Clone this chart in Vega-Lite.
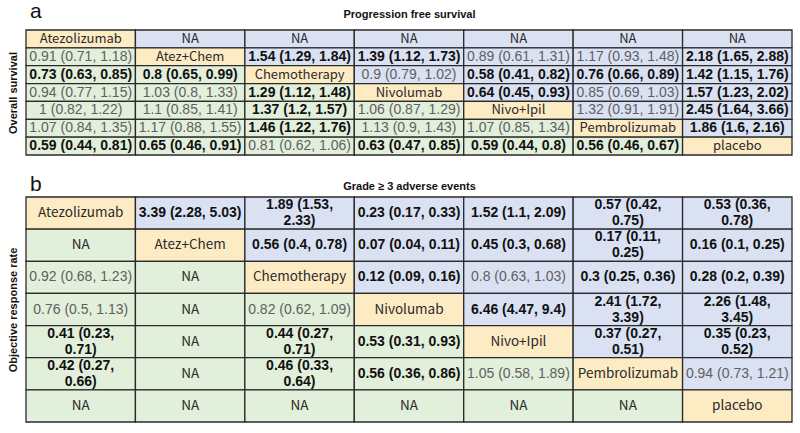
{
  "$schema": "https://vega.github.io/schema/vega-lite/v6.json",
  "padding": {"left": 7, "top": 1, "right": 2, "bottom": 4},
  "background": "white",
  "config": {"view": {"stroke": null}, "font": "Liberation Sans"},
  "datasets": {
    "pfs": [
      {"row": 1, "col": 1, "text": "Atezolizumab", "section": "diag", "kind": "lab"},
      {"row": 1, "col": 2, "text": "NA", "section": "upper", "kind": "lab"},
      {"row": 1, "col": 3, "text": "NA", "section": "upper", "kind": "lab"},
      {"row": 1, "col": 4, "text": "NA", "section": "upper", "kind": "lab"},
      {"row": 1, "col": 5, "text": "NA", "section": "upper", "kind": "lab"},
      {"row": 1, "col": 6, "text": "NA", "section": "upper", "kind": "lab"},
      {"row": 1, "col": 7, "text": "NA", "section": "upper", "kind": "lab"},
      {"row": 2, "col": 1, "text": "0.91 (0.71, 1.18)", "section": "lower", "kind": "ns"},
      {"row": 2, "col": 2, "text": "Atez+Chem", "section": "diag", "kind": "lab"},
      {"row": 2, "col": 3, "text": "1.54 (1.29, 1.84)", "section": "upper", "kind": "sig"},
      {"row": 2, "col": 4, "text": "1.39 (1.12, 1.73)", "section": "upper", "kind": "sig"},
      {"row": 2, "col": 5, "text": "0.89 (0.61, 1.31)", "section": "upper", "kind": "ns"},
      {"row": 2, "col": 6, "text": "1.17 (0.93, 1.48)", "section": "upper", "kind": "ns"},
      {"row": 2, "col": 7, "text": "2.18 (1.65, 2.88)", "section": "upper", "kind": "sig"},
      {"row": 3, "col": 1, "text": "0.73 (0.63, 0.85)", "section": "lower", "kind": "sig"},
      {"row": 3, "col": 2, "text": "0.8 (0.65, 0.99)", "section": "lower", "kind": "sig"},
      {"row": 3, "col": 3, "text": "Chemotherapy", "section": "diag", "kind": "lab"},
      {"row": 3, "col": 4, "text": "0.9 (0.79, 1.02)", "section": "upper", "kind": "ns"},
      {"row": 3, "col": 5, "text": "0.58 (0.41, 0.82)", "section": "upper", "kind": "sig"},
      {"row": 3, "col": 6, "text": "0.76 (0.66, 0.89)", "section": "upper", "kind": "sig"},
      {"row": 3, "col": 7, "text": "1.42 (1.15, 1.76)", "section": "upper", "kind": "sig"},
      {"row": 4, "col": 1, "text": "0.94 (0.77, 1.15)", "section": "lower", "kind": "ns"},
      {"row": 4, "col": 2, "text": "1.03 (0.8, 1.33)", "section": "lower", "kind": "ns"},
      {"row": 4, "col": 3, "text": "1.29 (1.12, 1.48)", "section": "lower", "kind": "sig"},
      {"row": 4, "col": 4, "text": "Nivolumab", "section": "diag", "kind": "lab"},
      {"row": 4, "col": 5, "text": "0.64 (0.45, 0.93)", "section": "upper", "kind": "sig"},
      {"row": 4, "col": 6, "text": "0.85 (0.69, 1.03)", "section": "upper", "kind": "ns"},
      {"row": 4, "col": 7, "text": "1.57 (1.23, 2.02)", "section": "upper", "kind": "sig"},
      {"row": 5, "col": 1, "text": "1 (0.82, 1.22)", "section": "lower", "kind": "ns"},
      {"row": 5, "col": 2, "text": "1.1 (0.85, 1.41)", "section": "lower", "kind": "ns"},
      {"row": 5, "col": 3, "text": "1.37 (1.2, 1.57)", "section": "lower", "kind": "sig"},
      {"row": 5, "col": 4, "text": "1.06 (0.87, 1.29)", "section": "lower", "kind": "ns"},
      {"row": 5, "col": 5, "text": "Nivo+Ipil", "section": "diag", "kind": "lab"},
      {"row": 5, "col": 6, "text": "1.32 (0.91, 1.91)", "section": "upper", "kind": "ns"},
      {"row": 5, "col": 7, "text": "2.45 (1.64, 3.66)", "section": "upper", "kind": "sig"},
      {"row": 6, "col": 1, "text": "1.07 (0.84, 1.35)", "section": "lower", "kind": "ns"},
      {"row": 6, "col": 2, "text": "1.17 (0.88, 1.55)", "section": "lower", "kind": "ns"},
      {"row": 6, "col": 3, "text": "1.46 (1.22, 1.76)", "section": "lower", "kind": "sig"},
      {"row": 6, "col": 4, "text": "1.13 (0.9, 1.43)", "section": "lower", "kind": "ns"},
      {"row": 6, "col": 5, "text": "1.07 (0.85, 1.34)", "section": "lower", "kind": "ns"},
      {"row": 6, "col": 6, "text": "Pembrolizumab", "section": "diag", "kind": "lab"},
      {"row": 6, "col": 7, "text": "1.86 (1.6, 2.16)", "section": "upper", "kind": "sig"},
      {"row": 7, "col": 1, "text": "0.59 (0.44, 0.81)", "section": "lower", "kind": "sig"},
      {"row": 7, "col": 2, "text": "0.65 (0.46, 0.91)", "section": "lower", "kind": "sig"},
      {"row": 7, "col": 3, "text": "0.81 (0.62, 1.06)", "section": "lower", "kind": "ns"},
      {"row": 7, "col": 4, "text": "0.63 (0.47, 0.85)", "section": "lower", "kind": "sig"},
      {"row": 7, "col": 5, "text": "0.59 (0.44, 0.8)", "section": "lower", "kind": "sig"},
      {"row": 7, "col": 6, "text": "0.56 (0.46, 0.67)", "section": "lower", "kind": "sig"},
      {"row": 7, "col": 7, "text": "placebo", "section": "diag", "kind": "lab"}
    ],
    "orr": [
      {"row": 1, "col": 1, "text": "Atezolizumab", "section": "diag", "kind": "lab"},
      {"row": 1, "col": 2, "text": "3.39 (2.28, 5.03)", "section": "upper", "kind": "sig"},
      {"row": 1, "col": 3, "text": "1.89 (1.53,\n2.33)", "section": "upper", "kind": "sig"},
      {"row": 1, "col": 4, "text": "0.23 (0.17, 0.33)", "section": "upper", "kind": "sig"},
      {"row": 1, "col": 5, "text": "1.52 (1.1, 2.09)", "section": "upper", "kind": "sig"},
      {"row": 1, "col": 6, "text": "0.57 (0.42,\n0.75)", "section": "upper", "kind": "sig"},
      {"row": 1, "col": 7, "text": "0.53 (0.36,\n0.78)", "section": "upper", "kind": "sig"},
      {"row": 2, "col": 1, "text": "NA", "section": "lower", "kind": "lab"},
      {"row": 2, "col": 2, "text": "Atez+Chem", "section": "diag", "kind": "lab"},
      {"row": 2, "col": 3, "text": "0.56 (0.4, 0.78)", "section": "upper", "kind": "sig"},
      {"row": 2, "col": 4, "text": "0.07 (0.04, 0.11)", "section": "upper", "kind": "sig"},
      {"row": 2, "col": 5, "text": "0.45 (0.3, 0.68)", "section": "upper", "kind": "sig"},
      {"row": 2, "col": 6, "text": "0.17 (0.11,\n0.25)", "section": "upper", "kind": "sig"},
      {"row": 2, "col": 7, "text": "0.16 (0.1, 0.25)", "section": "upper", "kind": "sig"},
      {"row": 3, "col": 1, "text": "0.92 (0.68, 1.23)", "section": "lower", "kind": "ns"},
      {"row": 3, "col": 2, "text": "NA", "section": "lower", "kind": "lab"},
      {"row": 3, "col": 3, "text": "Chemotherapy", "section": "diag", "kind": "lab"},
      {"row": 3, "col": 4, "text": "0.12 (0.09, 0.16)", "section": "upper", "kind": "sig"},
      {"row": 3, "col": 5, "text": "0.8 (0.63, 1.03)", "section": "upper", "kind": "ns"},
      {"row": 3, "col": 6, "text": "0.3 (0.25, 0.36)", "section": "upper", "kind": "sig"},
      {"row": 3, "col": 7, "text": "0.28 (0.2, 0.39)", "section": "upper", "kind": "sig"},
      {"row": 4, "col": 1, "text": "0.76 (0.5, 1.13)", "section": "lower", "kind": "ns"},
      {"row": 4, "col": 2, "text": "NA", "section": "lower", "kind": "lab"},
      {"row": 4, "col": 3, "text": "0.82 (0.62, 1.09)", "section": "lower", "kind": "ns"},
      {"row": 4, "col": 4, "text": "Nivolumab", "section": "diag", "kind": "lab"},
      {"row": 4, "col": 5, "text": "6.46 (4.47, 9.4)", "section": "upper", "kind": "sig"},
      {"row": 4, "col": 6, "text": "2.41 (1.72,\n3.39)", "section": "upper", "kind": "sig"},
      {"row": 4, "col": 7, "text": "2.26 (1.48,\n3.45)", "section": "upper", "kind": "sig"},
      {"row": 5, "col": 1, "text": "0.41 (0.23,\n0.71)", "section": "lower", "kind": "sig"},
      {"row": 5, "col": 2, "text": "NA", "section": "lower", "kind": "lab"},
      {"row": 5, "col": 3, "text": "0.44 (0.27,\n0.71)", "section": "lower", "kind": "sig"},
      {"row": 5, "col": 4, "text": "0.53 (0.31, 0.93)", "section": "lower", "kind": "sig"},
      {"row": 5, "col": 5, "text": "Nivo+Ipil", "section": "diag", "kind": "lab"},
      {"row": 5, "col": 6, "text": "0.37 (0.27,\n0.51)", "section": "upper", "kind": "sig"},
      {"row": 5, "col": 7, "text": "0.35 (0.23,\n0.52)", "section": "upper", "kind": "sig"},
      {"row": 6, "col": 1, "text": "0.42 (0.27,\n0.66)", "section": "lower", "kind": "sig"},
      {"row": 6, "col": 2, "text": "NA", "section": "lower", "kind": "lab"},
      {"row": 6, "col": 3, "text": "0.46 (0.33,\n0.64)", "section": "lower", "kind": "sig"},
      {"row": 6, "col": 4, "text": "0.56 (0.36, 0.86)", "section": "lower", "kind": "sig"},
      {"row": 6, "col": 5, "text": "1.05 (0.58, 1.89)", "section": "lower", "kind": "ns"},
      {"row": 6, "col": 6, "text": "Pembrolizumab", "section": "diag", "kind": "lab"},
      {"row": 6, "col": 7, "text": "0.94 (0.73, 1.21)", "section": "upper", "kind": "ns"},
      {"row": 7, "col": 1, "text": "NA", "section": "lower", "kind": "lab"},
      {"row": 7, "col": 2, "text": "NA", "section": "lower", "kind": "lab"},
      {"row": 7, "col": 3, "text": "NA", "section": "lower", "kind": "lab"},
      {"row": 7, "col": 4, "text": "NA", "section": "lower", "kind": "lab"},
      {"row": 7, "col": 5, "text": "NA", "section": "lower", "kind": "lab"},
      {"row": 7, "col": 6, "text": "NA", "section": "lower", "kind": "lab"},
      {"row": 7, "col": 7, "text": "placebo", "section": "diag", "kind": "lab"}
    ]
  },
  "vconcat": [
    {
      "title": {"text": "a", "anchor": "start", "frame": "group", "fontSize": 21, "fontWeight": "normal", "offset": -14, "dx": 4, "color": "#111"},
      "width": 766,
      "height": 125,
      "data": {"name": "pfs"},
      "encoding": {
        "x": {"field": "col", "type": "ordinal", "scale": {"paddingInner": 0, "paddingOuter": 0},
              "axis": {"orient": "top", "title": "Progression free survival", "labels": false, "ticks": false, "domain": false, "titleFontSize": 11, "titleFontWeight": "bold", "titlePadding": 11, "titleColor": "#111"}},
        "y": {"field": "row", "type": "ordinal", "scale": {"paddingInner": 0, "paddingOuter": 0},
              "axis": {"title": "Overall survival", "labels": false, "ticks": false, "domain": false, "titleFontSize": 11, "titleFontWeight": "bold", "titlePadding": 8, "titleColor": "#111"}}
      },
      "layer": [
        {"mark": {"type": "rect", "stroke": "#2a2a2a", "strokeWidth": 1.3},
         "encoding": {"color": {"field": "section", "type": "nominal", "legend": null,
                      "scale": {"domain": ["diag", "upper", "lower"], "range": ["#fdebc4", "#dae1f3", "#e2efda"]}}}},
        {"transform": [{"filter": "datum.kind === 'lab'"}],
         "mark": {"type": "text", "fontSize": 13, "fontWeight": "normal", "font": "Noto Sans CJK SC", "color": "#2a2a2a"},
         "encoding": {"text": {"field": "text"}}},
        {"transform": [{"filter": "datum.kind === 'ns'"}],
         "mark": {"type": "text", "fontSize": 14, "fontWeight": "normal", "color": "#606060"},
         "encoding": {"text": {"field": "text"}}},
        {"transform": [{"filter": "datum.kind === 'sig'"}],
         "mark": {"type": "text", "fontSize": 14, "fontWeight": "bold", "color": "#111"},
         "encoding": {"text": {"field": "text"}}}
      ]
    },
    {
      "title": {"text": "b", "anchor": "start", "frame": "group", "fontSize": 21, "fontWeight": "normal", "offset": -15, "dx": 4, "color": "#111"},
      "width": 766,
      "height": 225,
      "data": {"name": "orr"},
      "encoding": {
        "x": {"field": "col", "type": "ordinal", "scale": {"paddingInner": 0, "paddingOuter": 0},
              "axis": {"orient": "top", "title": "Grade ≥ 3 adverse events", "labels": false, "ticks": false, "domain": false, "titleFontSize": 11, "titleFontWeight": "bold", "titlePadding": 6, "titleColor": "#111"}},
        "y": {"field": "row", "type": "ordinal", "scale": {"paddingInner": 0, "paddingOuter": 0},
              "axis": {"title": "Objective response rate", "labels": false, "ticks": false, "domain": false, "titleFontSize": 11, "titleFontWeight": "bold", "titlePadding": 8, "titleColor": "#111"}}
      },
      "layer": [
        {"mark": {"type": "rect", "stroke": "#2a2a2a", "strokeWidth": 1.3},
         "encoding": {"color": {"field": "section", "type": "nominal", "legend": null,
                      "scale": {"domain": ["diag", "upper", "lower"], "range": ["#fdebc4", "#dae1f3", "#e2efda"]}}}},
        {"transform": [{"filter": "datum.kind === 'lab'"}],
         "mark": {"type": "text", "fontSize": 13.5, "fontWeight": "normal", "font": "Noto Sans CJK SC", "color": "#2a2a2a"},
         "encoding": {"text": {"field": "text"}}},
        {"transform": [{"filter": "datum.kind === 'ns'"}],
         "mark": {"type": "text", "fontSize": 14, "fontWeight": "normal", "color": "#606060"},
         "encoding": {"text": {"field": "text"}}},
        {"transform": [{"filter": "datum.kind === 'sig' && indexof(datum.text, '\\n') < 0"}],
         "mark": {"type": "text", "fontSize": 14, "fontWeight": "bold", "color": "#111"},
         "encoding": {"text": {"field": "text"}}},
        {"transform": [{"filter": "datum.kind === 'sig' && indexof(datum.text, '\\n') >= 0"}],
         "mark": {"type": "text", "fontSize": 14, "fontWeight": "bold", "color": "#111", "lineBreak": "\n", "lineHeight": 16, "dy": -8},
         "encoding": {"text": {"field": "text"}}}
      ]
    }
  ],
  "spacing": 18
}
